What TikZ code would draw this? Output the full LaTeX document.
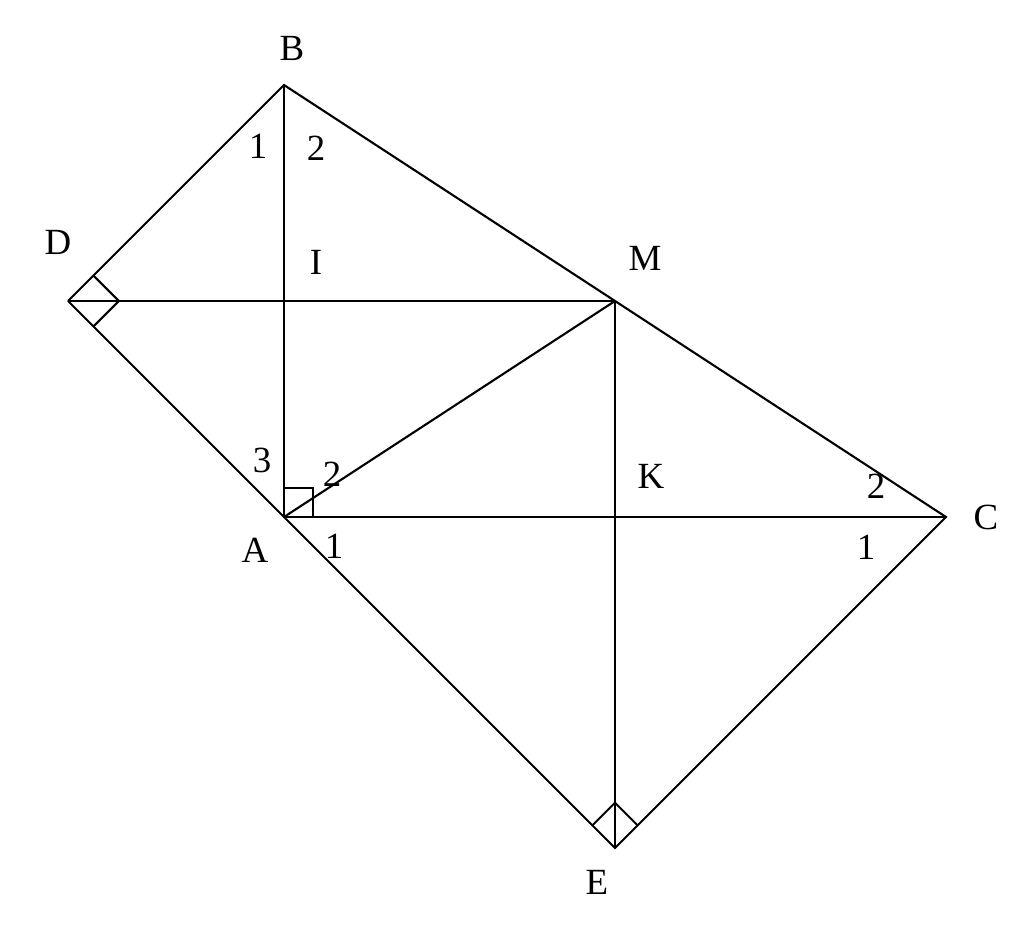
\documentclass[tikz,border=0pt]{standalone}
\usepackage{fontspec}
\setmainfont{Liberation Serif}
\usetikzlibrary{positioning,calc}

\begin{document}
\begin{tikzpicture}[line width=0.6pt, every node/.style={font=\fontsize{10.5}{12}\selectfont, inner sep=0pt}]
	\useasboundingbox (0,0) rectangle (10.24,9.46);
	% points
	\coordinate (B) at (2.84,8.61);
	\coordinate (A) at (2.84,4.29);
	\coordinate (C) at (9.46,4.29);
	\coordinate (D) at (0.68,6.45);
	\coordinate (M) at (6.15,6.45);
	\coordinate (E) at (6.15,0.98);
	\coordinate (I) at (2.84,6.45);
	\coordinate (K) at (6.15,4.29);
	
	\draw (D) -- (B) -- (C) -- (E) -- (A) -- (D);
	\draw (B) -- (A) -- (C);
	\draw (D) -- (M) -- (E);
	\draw (A) -- (M);
	
	% right angles
	\draw (A) ++(0,0.29) -- ++(0.29,0) -- ++(0,-0.29);
	\draw ($(D)!0.36cm!(B)$) -- ($(D)!0.36cm!(B)!0.36cm!-90:(B)$) -- ($(D)!0.36cm!(A)$);
	\draw ($(E)!0.32cm!(A)$) -- ($(E)!0.32cm!(A)!0.32cm!-90:(A)$) -- ($(E)!0.32cm!(C)$);
	
	% labels
	\node (lB) at (2.92,8.98) {B};
	\node (lD) at (0.58,7.04) {D};
	\node (lI) at (3.16,6.84) {I};
	\node (lM) at (6.45,6.88) {M};
	\node (lK) at (6.51,4.70) {K};
	\node (lC) at (9.86,4.29) {C};
	\node (lA) at (2.55,3.96) {A};
	\node (lE) at (5.97,0.64) {E};
	
	\node (b1) at (2.58,8.00) {1};
	\node (b2) at (3.16,7.98) {2};
	\node (a3) at (2.62,4.86) {3};
	\node (a2) at (3.32,4.72) {2};
	\node (a1) at (3.34,4.00) {1};
	\node (c2) at (8.76,4.60) {2};
	\node (c1) at (8.66,3.99) {1};
\end{tikzpicture}
\end{document}
